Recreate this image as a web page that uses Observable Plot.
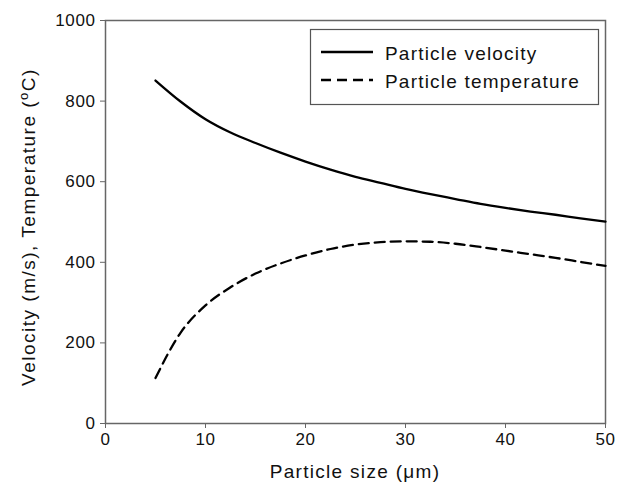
<!DOCTYPE html>
<html><head><meta charset="utf-8">
<script src="https://cdn.jsdelivr.net/npm/d3@7"></script>
<script src="https://cdn.jsdelivr.net/npm/@observablehq/plot@0.6"></script>
<style>body{margin:0;background:#fff}</style>
</head><body><div id="chart"></div>
<script>
const sizes = [5, 7.5, 10, 12.5, 15, 17.5, 20, 22.5, 25, 27.5, 30, 32.5, 35, 37.5, 40, 42.5, 45, 47.5, 50];
const velocity = [851, 799, 755, 722, 696, 672, 650, 630, 612, 597, 582, 569, 557, 545, 535, 526, 518, 509, 501];
const temperature = [113, 225, 293, 338, 372, 397, 417, 433, 444, 450, 452, 451, 446, 438, 429, 420, 411, 401, 391];
const xTicks = [0, 10, 20, 30, 40, 50];
const yTicks = [0, 200, 400, 600, 800, 1000];
const seriesNames = ["Particle velocity", "Particle temperature"];
const xLabel = "Particle size (\u03bcm)";

const data = sizes.map((s, i) => ({s, v: velocity[i], t: temperature[i]}));
const font = "'Liberation Sans', Arial, sans-serif";

const plot = Plot.plot({
  width: 627, height: 486,
  marginLeft: 105, marginRight: 22, marginTop: 20, marginBottom: 63,
  style: {fontFamily: font, fontSize: "17px", background: "#fff", color: "#111"},
  x: {domain: [0, 50]},
  y: {domain: [0, 1000]},
  marks: [
    Plot.frame({stroke: "#666", strokeWidth: 1.5}),
    Plot.axisX({ticks: xTicks, tickFormat: d3.format("d"), tickSize: 5, tickPadding: 4, fontSize: 17, stroke: "#666", fill: "#111", label: null}),
    Plot.axisY({ticks: yTicks, tickFormat: d3.format("d"), tickSize: 5, tickPadding: 5, fontSize: 17, stroke: "#666", fill: "#111", label: null}),
    Plot.line(data, {x: "s", y: "v", stroke: "#000", strokeWidth: 2.3, curve: "monotone-x"}),
    Plot.line(data, {x: "s", y: "t", stroke: "#000", strokeWidth: 2.3, strokeDasharray: "10,6", curve: "monotone-x"})
  ]
});
document.getElementById("chart").appendChild(plot);

const svg = d3.select(plot);
svg.selectAll("g[aria-label$='tick label'] text").attr("letter-spacing", 0.6);
// x-axis label
svg.append("text")
  .attr("x", 355).attr("y", 478)
  .attr("text-anchor", "middle")
  .attr("font-family", font).attr("font-size", 19)
  .attr("letter-spacing", 1.3).attr("fill", "#111")
  .text(xLabel);
// y-axis label with superscript o
const yl = svg.append("text")
  .attr("transform", "translate(35,227) rotate(-90)")
  .attr("text-anchor", "middle")
  .attr("font-family", font).attr("font-size", 19)
  .attr("letter-spacing", 1.5).attr("fill", "#111");
yl.append("tspan").text("Velocity (m/s), Temperature (");
yl.append("tspan").attr("dy", -7).attr("font-size", 13).text("o");
yl.append("tspan").attr("dy", 7).text("C)");

// legend
const lg = svg.append("g");
lg.append("rect").attr("x", 310.5).attr("y", 29.5).attr("width", 288).attr("height", 75)
  .attr("fill", "#fff").attr("stroke", "#555").attr("stroke-width", 1.2);
const rows = [{y: 52, dash: null}, {y: 80, dash: "10,6"}];
rows.forEach((r, i) => {
  const ln = lg.append("line").attr("x1", 321).attr("x2", 373).attr("y1", r.y).attr("y2", r.y)
    .attr("stroke", "#000").attr("stroke-width", 2.3);
  if (r.dash) ln.attr("stroke-dasharray", r.dash);
  lg.append("text").attr("x", 385).attr("y", r.y + 8)
    .attr("text-anchor", "start")
    .attr("font-family", font).attr("font-size", 19).attr("letter-spacing", 1.2)
    .attr("fill", "#111").text(seriesNames[i]);
});
</script>
</body></html>
